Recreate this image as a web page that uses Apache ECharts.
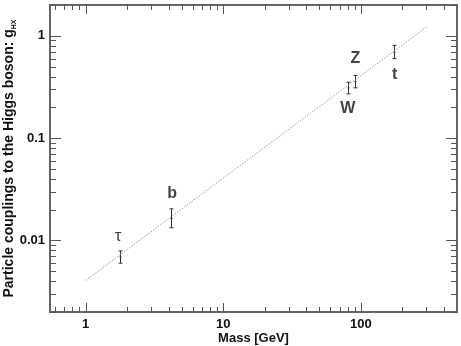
<!DOCTYPE html>
<html><head><meta charset="utf-8">
<script src="https://cdn.jsdelivr.net/npm/echarts@6/dist/echarts.min.js"></script>
<style>html,body{margin:0;padding:0;background:#fff}#c{width:461px;height:346px}</style>
</head><body><div id="c"></div>
<script>
// Particle data
const pointNames = ['τ', 'b', 'W', 'Z', 't'];
const pointMass = [1.777, 4.18, 80.4, 91.19, 173];
const pointCoupling = [0.0069, 0.0164, 0.309, 0.358, 0.694];
const errLow = [0.0060, 0.0133, 0.271, 0.310, 0.598];
const errHigh = [0.0079, 0.0204, 0.352, 0.410, 0.807];
// fitted line
const lineMass = [1, 300];
const lineCoupling = [0.00407, 1.22];
// axes
const xMajorTicks = [1, 10, 100];
const xMinorTicks = [0.6, 0.7, 0.8, 0.9, 2, 3, 4, 5, 6, 7, 8, 9, 20, 30, 40, 50, 60, 70, 80, 90, 200, 300, 400];
const yMajorTicks = [0.01, 0.1, 1];
const yMinorTicks = [0.002, 0.003, 0.004, 0.005, 0.006, 0.007, 0.008, 0.009, 0.02, 0.03, 0.04, 0.05, 0.06, 0.07, 0.08, 0.09, 0.2, 0.3, 0.4, 0.5, 0.6, 0.7, 0.8, 0.9, 2];
const xMin = 0.55, xMax = 500, yMin = 0.002, yMax = 2;

const labelOffsets = [[-2, -21], [1, -25], [0, 21], [0, -23], [1, 23]];
const labelStyles = [
  {fontFamily: 'Liberation Sans', fontWeight: 'normal', fontSize: 17},
  {}, {}, {}, {}
];

const errData = pointMass.map((m, i) => [m, errLow[i], errHigh[i], pointCoupling[i]]);
function renderErr(params, api) {
  const x = api.value(0);
  const a = api.coord([x, api.value(1)]);
  const b = api.coord([x, api.value(2)]);
  const c = api.coord([x, api.value(3)]);
  const px = Math.round(a[0]) + 0.5;
  const w = 2;
  const st = () => ({stroke: '#333', lineWidth: 1});
  return {type: 'group', children: [
    {type: 'line', shape: {x1: px, y1: a[1], x2: px, y2: b[1]}, style: st()},
    {type: 'line', shape: {x1: px - w, y1: a[1], x2: px + w, y2: a[1]}, style: st()},
    {type: 'line', shape: {x1: px - w, y1: b[1], x2: px + w, y2: b[1]}, style: st()},
    {type: 'line', shape: {x1: px - 1, y1: c[1], x2: px + 1, y2: c[1]}, style: st()}
  ]};
}

const chart = echarts.init(document.getElementById('c'), null, {renderer: 'canvas'});
const font = 'Liberation Sans, Arial, Helvetica, sans-serif';
const frameLine = {show: true, onZero: false, lineStyle: {color: '#666', width: 2}};

function frameAxis(kind, position) {
  return {
    type: 'log', logBase: 10, min: kind === 'x' ? xMin : yMin, max: kind === 'x' ? xMax : yMax,
    position: position,
    axisLine: frameLine, splitLine: {show: false},
    axisLabel: {show: false}, axisTick: {show: false}
  };
}

chart.setOption({
  animation: false,
  backgroundColor: '#fff',
  grid: {left: 50, top: 5, right: 4, bottom: 34, containLabel: false, outerBoundsMode: 'none', show: false},
  xAxis: [{
    type: 'log', logBase: 10, min: xMin, max: xMax, position: 'bottom',
    name: 'Mass [GeV]', nameLocation: 'middle', nameGap: 20, nameMoveOverlap: false,
    nameTextStyle: {fontFamily: font, fontWeight: 'bold', fontSize: 13, color: '#111'},
    axisLine: frameLine, splitLine: {show: false}, axisTick: {show: false},
    axisLabel: {customValues: xMajorTicks, margin: 6, fontFamily: font, fontWeight: 'bold', fontSize: 13, color: '#111',
      formatter: v => String(v)}
  }, frameAxis('x', 'top')],
  yAxis: [{
    type: 'log', logBase: 10, min: yMin, max: yMax, position: 'left',
    name: 'Particle couplings to the Higgs boson: g{sub|HX}', nameLocation: 'middle', nameGap: 32, nameRotate: 90, nameMoveOverlap: false,
    nameTextStyle: {fontFamily: font, fontWeight: 'bold', fontSize: 14, color: '#111', lineHeight: 17,
      rich: {sub: {fontFamily: font, fontWeight: 'bold', fontSize: 7, color: '#111', verticalAlign: 'bottom', lineHeight: 11}}},
    axisLine: frameLine, splitLine: {show: false}, axisTick: {show: false},
    axisLabel: {customValues: yMajorTicks, margin: 5, fontFamily: font, fontWeight: 'bold', fontSize: 13, color: '#111',
      formatter: v => String(v)}
  }, frameAxis('y', 'right')],
  series: [
    {
      type: 'line', data: lineMass.map((m, i) => [m, lineCoupling[i]]),
      symbol: 'none', lineStyle: {color: '#999', width: 1, type: [1.5, 1.5]}, silent: true
    },
    {type: 'custom', renderItem: renderErr, data: errData, silent: true, z: 3},
    {
      type: 'scatter', symbolSize: 0, silent: true, z: 4,
      data: pointMass.map((m, i) => ({
        value: [m, pointCoupling[i]],
        label: Object.assign({offset: labelOffsets[i]}, labelStyles[i])
      })),
      label: {show: true, position: 'inside', formatter: p => pointNames[p.dataIndex],
        fontFamily: font, fontWeight: 'bold', fontSize: 16, color: '#111'}
    }
  ]
});

// inward tick marks on all four sides, positioned through the chart's own axis scales
const toPx = v => chart.convertToPixel({xAxisIndex: 0, yAxisIndex: 0}, v);
const bl = toPx([xMin, yMin]);
const tr = toPx([xMax, yMax]);
const tickEls = [];
const tickStyle = () => ({stroke: '#555', lineWidth: 1});
function addX(v, L) {
  const x = Math.round(toPx([v, yMin])[0]) + 0.5;
  tickEls.push({type: 'line', silent: true, z: 10, shape: {x1: x, y1: bl[1], x2: x, y2: bl[1] - L}, style: tickStyle()});
  tickEls.push({type: 'line', silent: true, z: 10, shape: {x1: x, y1: tr[1], x2: x, y2: tr[1] + L}, style: tickStyle()});
}
function addY(v, L) {
  const y = Math.round(toPx([xMin, v])[1]) + 0.5;
  tickEls.push({type: 'line', silent: true, z: 10, shape: {x1: bl[0], y1: y, x2: bl[0] + L, y2: y}, style: tickStyle()});
  tickEls.push({type: 'line', silent: true, z: 10, shape: {x1: tr[0], y1: y, x2: tr[0] - L, y2: y}, style: tickStyle()});
}
xMajorTicks.forEach(v => addX(v, 9));
xMinorTicks.forEach(v => addX(v, 5));
yMajorTicks.forEach(v => addY(v, 11));
yMinorTicks.forEach(v => addY(v, 6));
chart.setOption({graphic: {elements: tickEls}});
</script>
</body></html>
